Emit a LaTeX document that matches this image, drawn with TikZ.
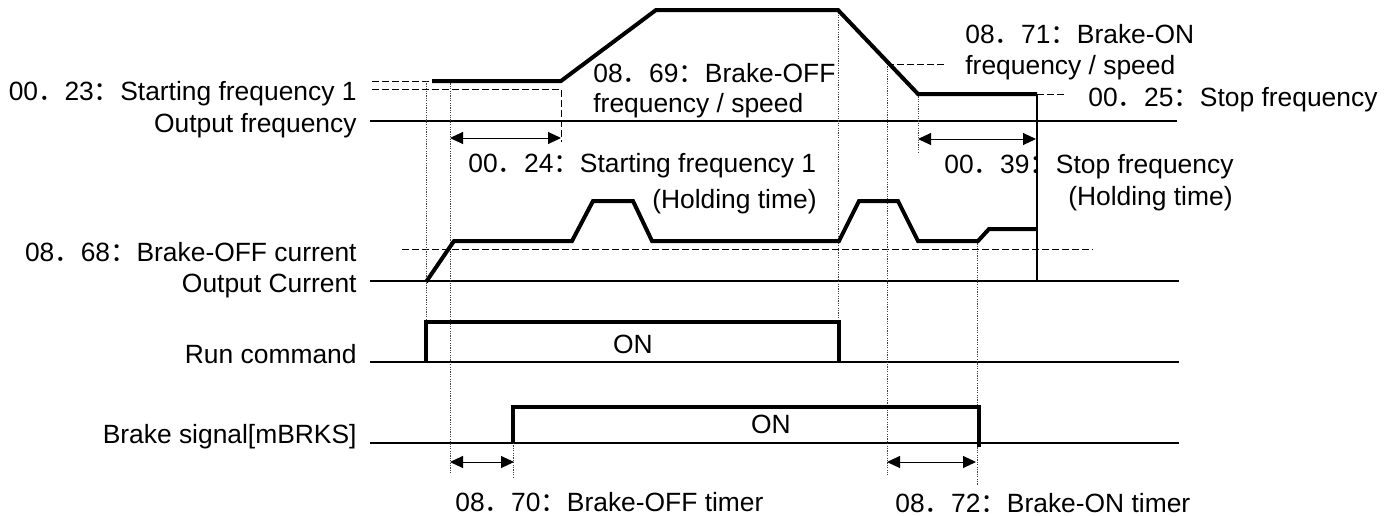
\documentclass[tikz,border=0pt]{standalone}
\usepackage{fontspec}
\setmainfont{Liberation Sans}
\newfontfamily\cjkfont{Noto Sans CJK SC}
\usepackage{tikz}
\usetikzlibrary{arrows.meta}
\newcommand{\parno}[2]{#1{\cjkfont ．}#2{\cjkfont ：}}

\begin{document}
\begin{tikzpicture}[x=0.5pt,y=-0.5pt,
      lbl/.style={font=\fontsize{13.2pt}{15pt}\selectfont,inner sep=0pt},
      wave/.style={line width=2pt},
      axis/.style={line width=0.6pt},
      guide/.style={line width=0.4pt,black!75,dash pattern=on 0.6pt off 0.6pt},
      refline/.style={line width=0.5pt,dash pattern=on 3.5pt off 1.5pt},
      span/.style={line width=0.5pt,{Triangle[length=6.5pt,width=6pt]}-{Triangle[length=6.5pt,width=6pt]}}
    ]
    \useasboundingbox (0,0) rectangle (1398,515);

    % signal names
    \node[lbl,anchor=base east] (f23) at (357,100) {\parno{00}{23}Starting frequency 1};
    \node[lbl,anchor=base east] (fout) at (357,132) {Output frequency};
    \node[lbl,anchor=base east] (c68) at (357,261) {\parno{08}{68}Brake-OFF current};
    \node[lbl,anchor=base east] (cout) at (357,292) {Output Current};
    \node[lbl,anchor=base east] (run) at (357,363) {Run command};
    \node[lbl,anchor=base east] (brk) at (357,443) {Brake signal[mBRKS]};

    % parameter notes
    \node[lbl,anchor=base west] (f69a) at (593,82) {\parno{08}{69}Brake-OFF};
    \node[lbl,anchor=base west] (f69b) at (593,112) {frequency / speed};
    \node[lbl,anchor=base west] (f71a) at (965,43) {\parno{08}{71}Brake-ON};
    \node[lbl,anchor=base west] (f71b) at (965,74) {frequency / speed};
    \node[lbl,anchor=base west] (f25) at (1088,106) {\parno{00}{25}Stop frequency};
    \node[lbl,anchor=base west] (h24a) at (468,172) {\parno{00}{24}Starting frequency 1};
    \node[lbl,anchor=base east] (h24b) at (817,208) {(Holding time)};
    \node[lbl,anchor=base west] (h39a) at (944,173) {\parno{00}{39}Stop frequency};
    \node[lbl,anchor=base east] (h39b) at (1233,205) {(Holding time)};
    \node[lbl,anchor=base west] (t70) at (455,511) {\parno{08}{70}Brake-OFF timer};
    \node[lbl,anchor=base west] (t72) at (895,512) {\parno{08}{72}Brake-ON timer};
    \node[lbl,anchor=base] (on1) at (633,353) {ON};
    \node[lbl,anchor=base] (on2) at (771,433) {ON};

    % time axes
    \draw[axis] (fout.base east) ++(13,-11) coordinate (fax) -- (1177,121);
    \draw[axis] (370,281) coordinate (cax) -- (1179,281);
    \draw[axis] (370,362) coordinate (rax) -- (1179,362);
    \draw[axis] (370,443) coordinate (bax) -- (1179,443);
    \draw[axis] (1037,94) -- (1037,281);

    % levels
    \draw[refline] (372,81) -- (432,81);
    \draw[refline] (372,89) -- (561,89) -- (561,142);
    \draw[refline] (887,64) -- (945,64);
    \draw[refline] (1037,94) -- (1065,94);
    \draw[refline] (402,249) -- (1093,249);

    % timing guides
    \draw[guide] (426,81) -- (426,322);
    \draw[guide] (450,81) -- (450,474);
    \draw[guide] (513,443) -- (513,477);
    \draw[guide] (838,10) -- (838,322);
    \draw[guide] (887,64) -- (887,475);
    \draw[guide] (918,94) -- (918,153);
    \draw[guide] (977,241) -- (977,485);

    % waveforms
    \draw[wave] (432,81) -- (561,81) -- (656,10) -- (838,10) -- (918,94) -- (1037,94);
    \draw[wave] (426,282) -- (454,241) -- (572,241) -- (593,201) -- (633,201) -- (652,241)
      -- (839,241) -- (859,201) -- (898,201) -- (918,241) -- (978,241) -- (989,229) -- (1037,229);
    \draw[wave] (426,362) -- (426,322) -- (839,322) -- (839,362);
    \draw[wave] (513,443) -- (513,407) -- (979,407) -- (979,447);

    % holding times and timers
    \coordinate (s24) at (450,138);
    \coordinate (e24) at (561,138);
    \coordinate (s39) at (918,139);
    \coordinate (e39) at (1036,139);
    \coordinate (s70) at (450,462);
    \coordinate (e70) at (514,462);
    \coordinate (s72) at (887,462);
    \coordinate (e72) at (976,462);
    \draw[span] (s24) -- (e24);
    \draw[span] (s39) -- (e39);
    \draw[span] (s70) -- (e70);
    \draw[span] (s72) -- (e72);
  \end{tikzpicture}
\end{document}
